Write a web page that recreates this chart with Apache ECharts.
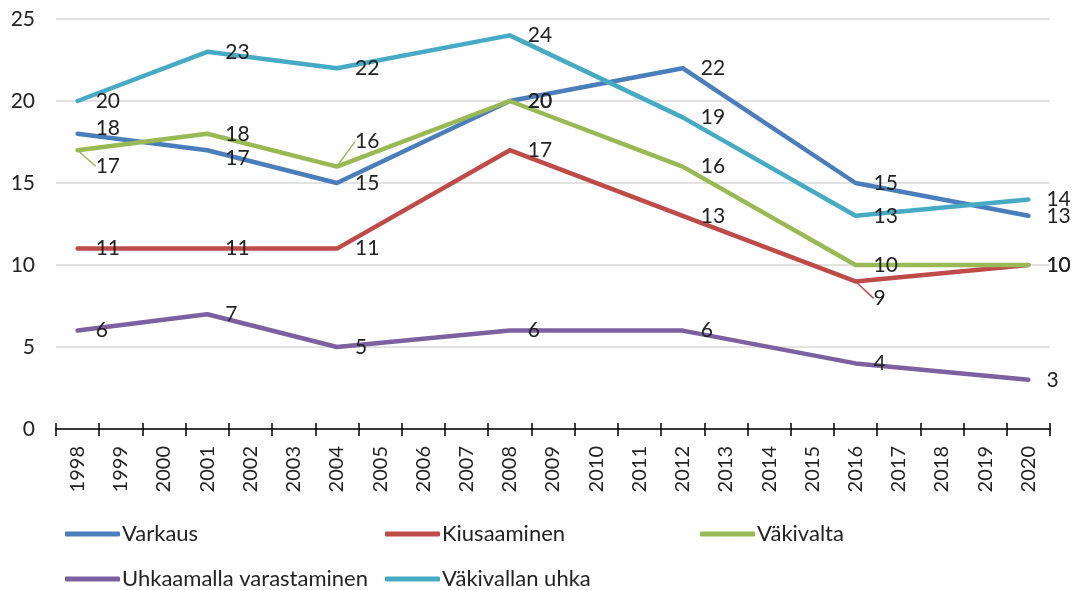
<!DOCTYPE html>
<html>
<head>
<meta charset="utf-8">
<script src="https://cdn.jsdelivr.net/npm/echarts@6/dist/echarts.min.js"></script>
<style>
  html, body { margin: 0; padding: 0; background: #fff; }
  #chart { width: 1075px; height: 590px; }
</style>
</head>
<body>
<div id="chart"></div>
<script>
// x-akselin vuodet
const years = ['1998', '1999', '2000', '2001', '2002', '2003', '2004', '2005', '2006', '2007', '2008',
  '2009', '2010', '2011', '2012', '2013', '2014', '2015', '2016', '2017', '2018', '2019', '2020']
// kyselyvuodet, joilta on arvot
const surveyYears = ['1998', '2001', '2004', '2008', '2012', '2016', '2020']

const varkaus = [18, 17, 15, 20, 22, 15, 13]
const kiusaaminen = [11, 11, 11, 17, 13, 9, 10]
const vakivalta = [17, 18, 16, 20, 16, 10, 10]
const uhkaamallaVarastaminen = [6, 7, 5, 6, 6, 4, 3]
const vakivallanUhka = [20, 23, 22, 24, 19, 13, 14]

const yTicks = [0, 5, 10, 15, 20, 25]

// label tweaks (index in surveyYears -> dy), true = draw leader line
const labelShift = {
  Varkaus: { 0: [-6, false], 1: [8, false] },
  Kiusaaminen: { 5: [17, true] },
  'Väkivalta': { 0: [16, true], 2: [-25, true] }
}

const font = 'Lato, "Open Sans", sans-serif'

function fill (name, values, color) {
  const shift = labelShift[name] || {}
  return years.map(y => {
    const i = surveyYears.indexOf(y)
    if (i < 0) return null
    const item = { value: values[i] }
    if (shift[i] && shift[i][1]) {
      item.labelLine = { show: true, lineStyle: { color, width: 1.5 } }
    }
    return item
  })
}

function makeSeries (name, values, color) {
  const shift = labelShift[name] || {}
  return {
    name,
    type: 'line',
    data: fill(name, values, color),
    connectNulls: true,
    showSymbol: true,
    symbol: 'circle',
    symbolSize: 0.1,
    lineStyle: { color, width: 4.5, cap: 'round', join: 'round' },
    itemStyle: { color },
    label: {
      show: true,
      position: 'right',
      distance: 18,
      color: '#222',
      fontSize: 21,
      fontFamily: font
    },
    labelLine: { show: false },
    labelLayout: params => {
      const i = surveyYears.indexOf(years[params.dataIndex])
      return shift[i] ? { dy: shift[i][0] } : {}
    },
    emphasis: { disabled: true }
  }
}

const series = [
  makeSeries('Varkaus', varkaus, '#4A7EBB'),
  makeSeries('Kiusaaminen', kiusaaminen, '#BE4B48'),
  makeSeries('Väkivalta', vakivalta, '#98B954'),
  makeSeries('Uhkaamalla varastaminen', uhkaamallaVarastaminen, '#7D60A0'),
  makeSeries('Väkivallan uhka', vakivallanUhka, '#46AAC5')
]

function legendAt (name, left, top) {
  return {
    data: [name],
    left,
    top,
    icon: 'roundRect',
    itemWidth: 55,
    itemHeight: 5,
    itemGap: 0,
    selectedMode: false,
    textStyle: { fontSize: 22, color: '#222', fontFamily: font, padding: [0, 0, 0, -3] }
  }
}

const mychart = echarts.init(document.getElementById('chart'))
const option = {
  animation: false,
  grid: { left: 56, right: 25, top: 19, bottom: 161 },
  legend: [
    legendAt('Varkaus', 60, 518),
    legendAt('Kiusaaminen', 380, 518),
    legendAt('Väkivalta', 695, 518),
    legendAt('Uhkaamalla varastaminen', 60, 563),
    legendAt('Väkivallan uhka', 380, 563)
  ],
  xAxis: [
    {
      type: 'category',
      data: years,
      boundaryGap: true,
      axisLine: { lineStyle: { color: '#000', width: 1.5 } },
      axisTick: { show: true, length: 7, lineStyle: { color: '#000', width: 1.5 } },
      axisLabel: {
        interval: 0,
        rotate: 90,
        margin: 17,
        fontSize: 20,
        color: '#222',
        fontFamily: font
      },
      splitLine: { show: false }
    },
    {
      type: 'category',
      data: years,
      position: 'bottom',
      boundaryGap: true,
      axisLine: { show: false },
      axisTick: { show: true, inside: true, length: 6, lineStyle: { color: '#000', width: 1.5 } },
      axisLabel: { show: false },
      splitLine: { show: false }
    }
  ],
  yAxis: {
    type: 'value',
    min: yTicks[0],
    max: yTicks[yTicks.length - 1],
    interval: 5,
    axisLine: { show: false },
    axisTick: { show: false },
    axisLabel: { fontSize: 21, color: '#222', margin: 21, fontFamily: font },
    splitLine: { lineStyle: { color: '#d9d9d9', width: 1.5 } }
  },
  series
}
mychart.setOption(option)
</script>
</body>
</html>
